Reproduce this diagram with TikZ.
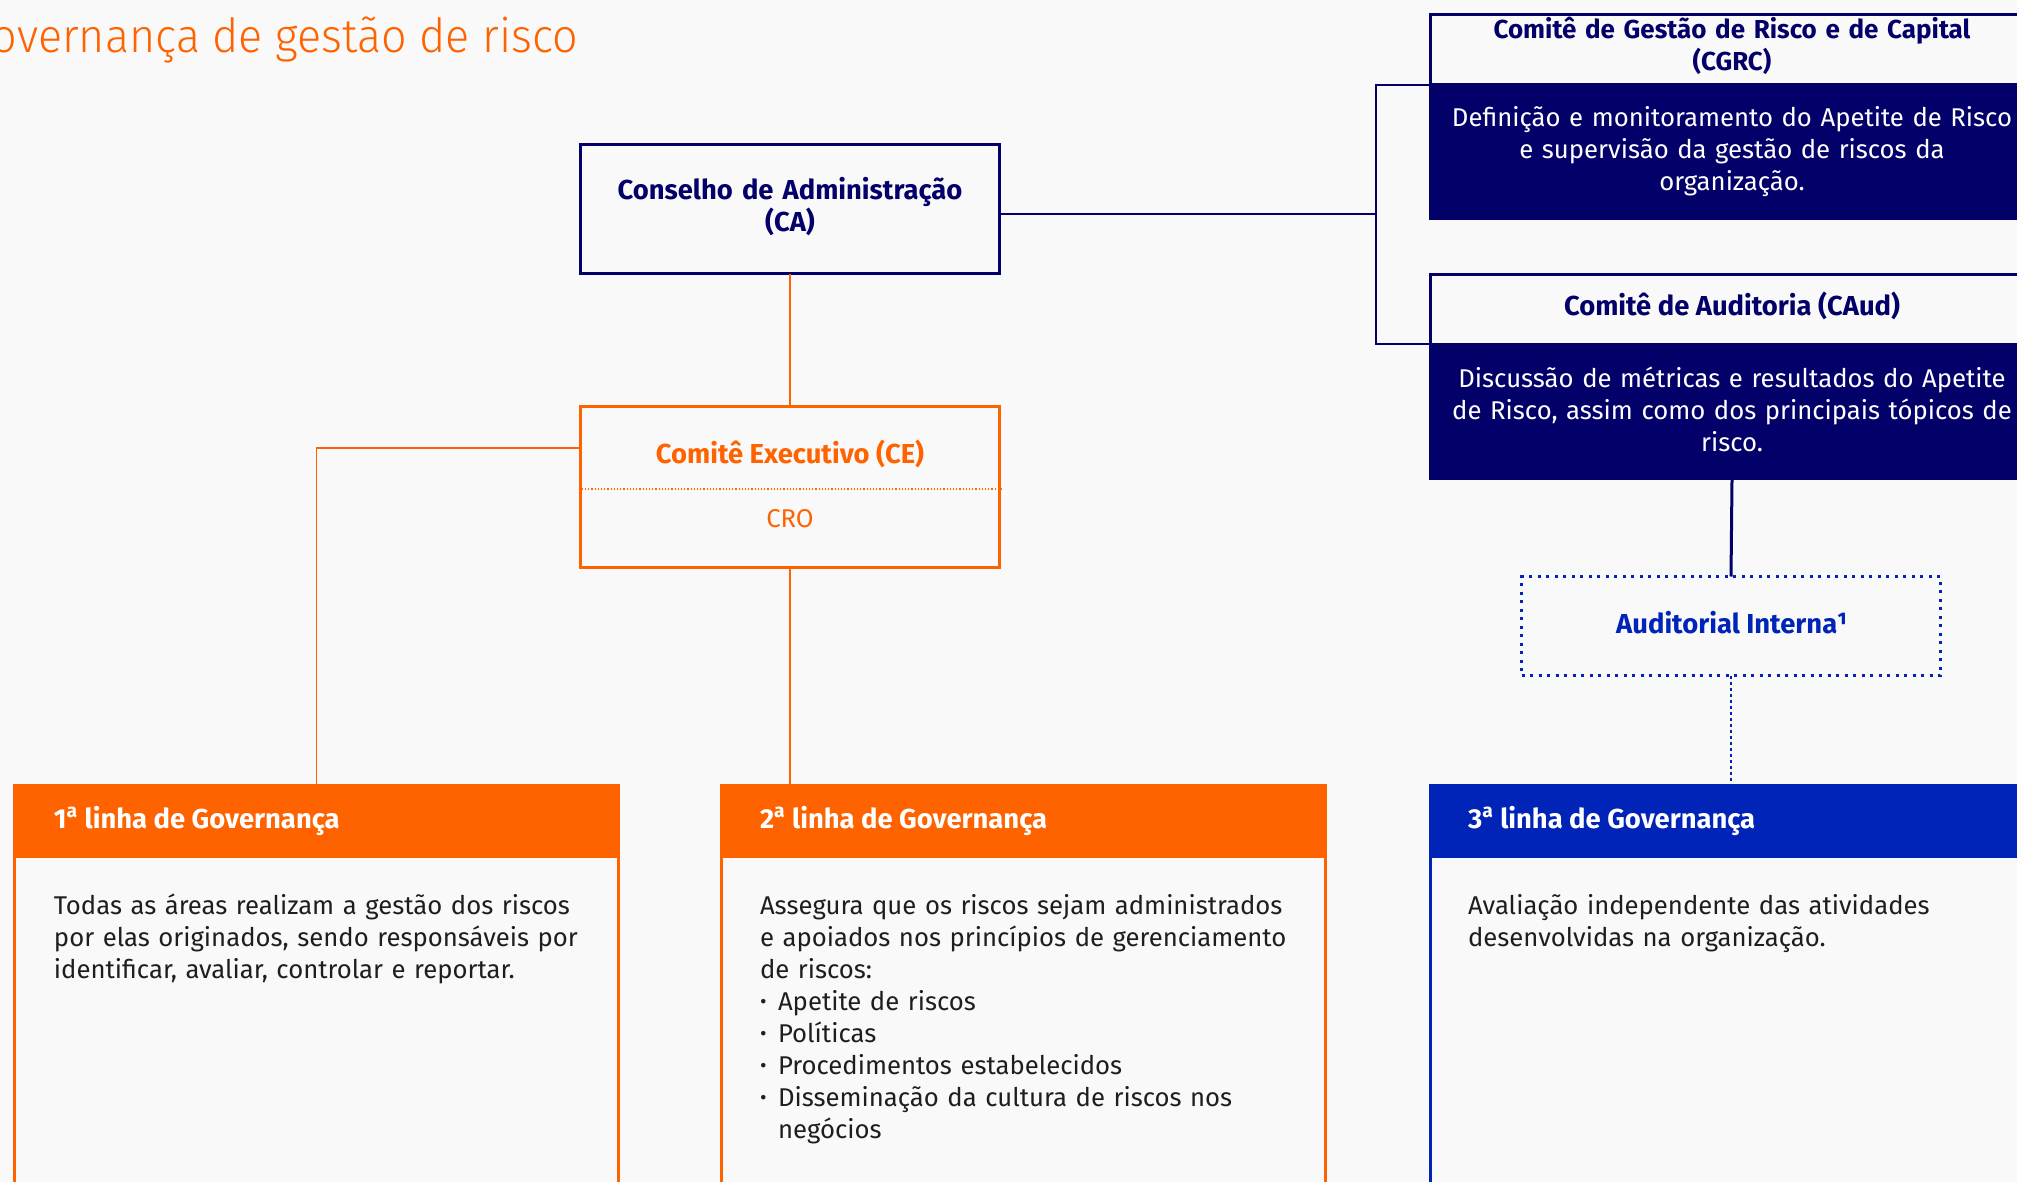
\documentclass[tikz,border=0pt]{standalone}
\usepackage{fontspec}
\setmainfont{Fira Sans}
\newfontfamily\lightfont{Fira Sans Light}[FakeStretch=0.955]
\usetikzlibrary{calc}
\definecolor{bg}{HTML}{F9F9F9}
\definecolor{brandorange}{HTML}{FF6300}
\definecolor{navy}{HTML}{03006A}
\definecolor{royal}{HTML}{0023B8}
\definecolor{ink}{HTML}{1E1E1E}
\newcommand{\itembullet}{\makebox[9pt][l]{\raisebox{0.6pt}{\fontsize{10}{10}\selectfont•}}}
\begin{document}
\begin{tikzpicture}[x=0.5pt,y=-0.5pt,
  every node/.style={inner sep=0pt, outer sep=0pt},
  txt/.style={font=\fontsize{12.85}{16}\selectfont},
  boldtxt/.style={font=\bfseries\fontsize{13.7}{16}\selectfont},
  framebox/.style={draw=#1, line width=1.5pt, minimum width=209.5pt},
  darkbody/.style={fill=navy, minimum width=303pt},
  colhead/.style={fill=#1, draw=#1, line width=1.5pt, minimum width=302pt, minimum height=35.5pt},
  coltitle/.style={boldtxt, text=white, anchor=base west},
  colbody/.style={txt, text=ink, anchor=base west, align=left, text width=300pt},
  link/.style={brandorange, line width=0.8pt},
  navylink/.style={navy, line width=0.7pt}
]
\useasboundingbox (0,0) rectangle (2017,1182);
\clip (0,0) rectangle (2017,1182);
\fill[bg] (0,0) rectangle (2017,1182);

% heading
\node[font=\lightfont\fontsize{23.5}{28}\selectfont, text=brandorange, anchor=base east] (title) at (578,53) {Governança de gestão de risco};

% board and executive committee
\node[framebox=navy, minimum height=64.5pt] (ca) at (790,209) {};
\node[boldtxt, text=navy, align=center, text width=200pt, anchor=base] (catext) at (790,200) {Conselho de Administração\\(CA)};

\node[framebox=brandorange, minimum height=80.5pt] (ce) at (790,487) {};
\node[boldtxt, text=brandorange, anchor=base] (cetitle) at (790,463) {Comitê Executivo (CE)};
\node[txt, text=brandorange, anchor=base] (cro) at (790,527) {CRO};
\draw[brandorange, line width=0.6pt, dash pattern=on 0.6pt off 1pt] ([xshift=-1pt,yshift=-1pt]ce.west) -- ([xshift=1pt,yshift=-1pt]ce.east);

% committees on the right
\node[framebox=navy, minimum width=301.5pt, minimum height=35.25pt] (cgrch) at (1732,49.75) {};
\node[darkbody, minimum height=67.5pt] (cgrcb) at (1732,152.5) {};
\node[font=\bfseries\fontsize{13}{16}\selectfont, text=navy, align=center, text width=300pt, anchor=base] (cgrctitle) at (1732,39) {Comitê de Gestão de Risco e de Capital\\(CGRC)};
\node[txt, text=white, align=center, text width=300pt, anchor=base] (cgrctext) at (1732,127) {Definição e monitoramento do Apetite de Risco\\e supervisão da gestão de riscos da\\organização.};

\node[framebox=navy, minimum width=301.5pt, minimum height=34.75pt] (caudh) at (1732,309.25) {};
\node[darkbody, minimum height=68pt] (caudb) at (1732,412) {};
\node[boldtxt, text=navy, anchor=base] (caudtitle) at (1732,315) {Comitê de Auditoria (CAud)};
\node[txt, text=white, align=center, text width=300pt, anchor=base] (caudtext) at (1732,387) {Discussão de métricas e resultados do Apetite\\de Risco, assim como dos principais tópicos de\\risco.};

\node[draw=royal, line width=1.3pt, dash pattern=on 1.5pt off 2.75pt, minimum width=209.5pt, minimum height=49.5pt] (ai) at (1731,626) {};
\node[boldtxt, text=royal, anchor=base] (aitext) at (1732,633) {Auditorial Interna¹};

% the three lines of governance
\node[colhead=brandorange] (l1h) at (316.5,821) {};
\node[colhead=brandorange] (l2h) at (1023.5,821) {};
\node[colhead=royal] (l3h) at (1732,821) {};
\draw[brandorange, line width=1.5pt] (l1h.south west) -- ++(0,450) (l1h.south east) -- ++(0,450);
\draw[brandorange, line width=1.5pt] (l2h.south west) -- ++(0,450) (l2h.south east) -- ++(0,450);
\draw[royal, line width=1.5pt] (l3h.south west) -- ++(0,450) (l3h.south east) -- ++(0,450);

\node[coltitle] (l1t) at (54,828) {1\textsuperscript{a} linha de Governança};
\node[coltitle] (l2t) at (760,828) {2\textsuperscript{a} linha de Governança};
\node[coltitle] (l3t) at (1468,828) {3\textsuperscript{a} linha de Governança};

\node[colbody] (l1b) at (54,914) {Todas as áreas realizam a gestão dos riscos\\por elas originados, sendo responsáveis por\\identificar, avaliar, controlar e reportar.};
\node[colbody] (l2b) at (760,914) {Assegura que os riscos sejam administrados\\e apoiados nos princípios de gerenciamento\\de riscos:\\
\itembullet Apetite de riscos\\
\itembullet Políticas\\
\itembullet Procedimentos estabelecidos\\
\itembullet Disseminação da cultura de riscos nos\\
\hspace*{9pt}negócios};
\node[colbody] (l3b) at (1468,914) {Avaliação independente das atividades\\desenvolvidas na organização.};

% connectors
\coordinate (brk) at (1376,214);
\draw[link] (ca.south) -- (ce.north);
\draw[link] ([yshift=19.5pt]ce.west) -| (l1h.north);
\draw[link] (ce.south) -- (ce.south |- l2h.north);
\draw[navylink] ([yshift=-2.5pt]ca.east) -- (brk);
\draw[navylink] (cgrcb.north west) -| (brk) |- (caudb.north west);
\draw[navy, line width=1.5pt] (caudb.south) -- (ai.north);
\draw[royal, line width=1.3pt, dash pattern=on 1.5pt off 1.5pt] (ai.south) -- (ai.south |- l3h.north);
\end{tikzpicture}
\end{document}
